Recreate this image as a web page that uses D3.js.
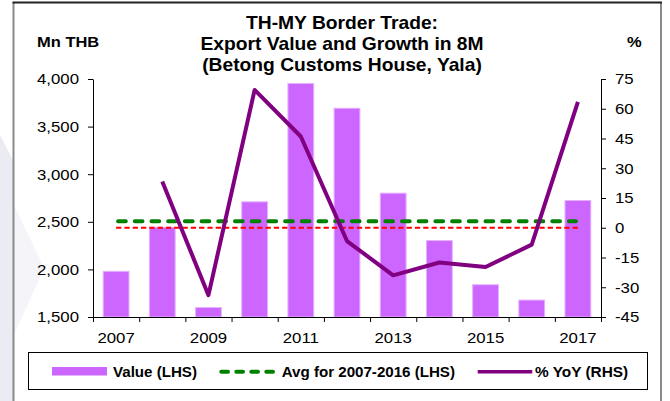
<!DOCTYPE html>
<html>
<head>
<meta charset="utf-8">
<script src="https://cdn.jsdelivr.net/npm/d3@7"></script>
<style>
  html, body { margin: 0; padding: 0; background: #fff; }
  svg { display: block; font-family: "Liberation Sans", Arial, Helvetica, sans-serif; }
</style>
</head>
<body>
<svg id="chart" width="670" height="401"></svg>
<script>
// Betong Customs House (Yala) border-trade exports, first 8 months of each year
const years = [2007, 2008, 2009, 2010, 2011, 2012, 2013, 2014, 2015, 2016, 2017];
const exportValue = [1985, 2448, 1605, 2715, 3958, 3698, 2806, 2308, 1844, 1683, 2729]; // Mn THB
const yoyGrowth = [null, 23.3, -34.0, 69.5, 46.0, -6.7, -24.0, -17.5, -19.8, -8.5, 63.5]; // %
const avgYears = [2007, 2016];

const leftTicks = [1500, 2000, 2500, 3000, 3500, 4000];
const rightTicks = [-45, -30, -15, 0, 15, 30, 45, 60, 75];
const yearLabels = [2007, 2009, 2011, 2013, 2015, 2017];

const titleLines = ["TH-MY Border Trade:", "Export Value and Growth in 8M", "(Betong Customs House, Yala)"];
const leftUnit = "Mn THB";
const rightUnit = "%";
const legendLabels = ["Value (LHS)", "Avg for 2007-2016 (LHS)", "% YoY (RHS)"];

const BAR = "#CC66FF", BAR_EDGE = "#E4B0FF", AVG = "#008000", ZERO = "#FF0000", YOY = "#800080";

const svg = d3.select("#chart");
const W = 670, H = 401;
const plot = { left: 93, right: 601, top: 79, bottom: 317 };

// Text is drawn slightly widened horizontally, like the original export
function label(sel, x, y, s, o = {}) {
  const sx = o.sx || 1.12;
  return sel.append("text")
    .attr("transform", `translate(${x},${y}) scale(${sx},1)`)
    .attr("text-anchor", o.anchor || "start")
    .attr("font-size", o.size || 15)
    .attr("font-weight", o.weight || "normal")
    .attr("fill", "#000")
    .text(s);
}

// faint page backdrop at the left edge
svg.append("polygon")
  .attr("points", "0,135 13,160 13,401 0,401")
  .attr("fill", "#ebebf3");
svg.append("polygon")
  .attr("points", "14,205 44,268 14,335")
  .attr("fill", "#f4f4f9");

// frame
svg.append("line").attr("x1", 13.5).attr("x2", 13.5).attr("y1", 2).attr("y2", H)
  .attr("stroke", "#8a8a8a").attr("stroke-width", 2);
svg.append("line").attr("x1", 661).attr("x2", 661).attr("y1", 2).attr("y2", H)
  .attr("stroke", "#8a8a8a").attr("stroke-width", 2);
svg.append("line").attr("x1", 12.5).attr("x2", 662).attr("y1", 2.5).attr("y2", 2.5)
  .attr("stroke", "#222").attr("stroke-width", 2);

// scales
const x = d3.scaleBand().domain(years).range([plot.left, plot.right])
  .paddingInner(0.42).paddingOuter(0.21);
const xEdge = d3.scaleLinear().domain([0, years.length]).range([plot.left, plot.right]);
const yL = d3.scaleLinear().domain([1500, 4000]).range([plot.bottom, plot.top]);
const yR = d3.scaleLinear().domain([-45, 75]).range([plot.bottom, plot.top]);
const cx = d => x(d) + x.bandwidth() / 2;

// bars
svg.append("g").selectAll("rect")
  .data(years.map((yr, i) => ({ yr, v: exportValue[i] })))
  .join("rect")
  .attr("x", d => x(d.yr) + 0.5)
  .attr("width", x.bandwidth() - 1)
  .attr("y", d => yL(d.v) + 0.5)
  .attr("height", d => plot.bottom - yL(d.v) - 0.5)
  .attr("fill", BAR)
  .attr("stroke", BAR_EDGE)
  .attr("stroke-width", 1);

// zero line of the right-hand axis
svg.append("line")
  .attr("x1", cx(years[0])).attr("x2", cx(years[years.length - 1]))
  .attr("y1", yR(0)).attr("y2", yR(0))
  .attr("stroke", ZERO).attr("stroke-width", 2)
  .attr("stroke-dasharray", "5.3,3");

// 2007-2016 average
const avgValue = d3.mean(exportValue.filter((v, i) => years[i] >= avgYears[0] && years[i] <= avgYears[1]));
svg.append("line")
  .attr("x1", cx(years[0]) + 2).attr("x2", cx(years[years.length - 1]) - 2)
  .attr("y1", yL(avgValue)).attr("y2", yL(avgValue))
  .attr("stroke", AVG).attr("stroke-width", 4)
  .attr("stroke-linecap", "round")
  .attr("stroke-dasharray", "7.7,9");

// YoY growth line
const yoyLine = d3.line()
  .defined(d => d.v !== null)
  .x(d => cx(d.yr))
  .y(d => yR(d.v));
svg.append("path")
  .datum(years.map((yr, i) => ({ yr, v: yoyGrowth[i] })))
  .attr("d", yoyLine)
  .attr("fill", "none")
  .attr("stroke", YOY)
  .attr("stroke-width", 4)
  .attr("stroke-linejoin", "round");

// axes
const gL = svg.append("g").attr("transform", `translate(${plot.left},0)`)
  .call(d3.axisLeft(yL).tickValues(leftTicks).tickSize(5).tickSizeOuter(0).tickFormat(""));
const gR = svg.append("g").attr("transform", `translate(${plot.right},0)`)
  .call(d3.axisRight(yR).tickValues(rightTicks).tickSize(5).tickSizeOuter(0).tickFormat(""));
const gB = svg.append("g").attr("transform", `translate(0,${plot.bottom})`)
  .call(d3.axisBottom(xEdge).tickValues(d3.range(years.length + 1)).tickSize(5).tickSizeOuter(0).tickFormat(""));
[gL, gR, gB].forEach(g => g.selectAll("path, line").attr("stroke", "#000").attr("stroke-width", 1));

const fmt = d3.format(",");
const tickLabels = svg.append("g");
leftTicks.forEach(t => label(tickLabels, plot.left - 14, yL(t) + 5.4, fmt(t), { anchor: "end" }));
rightTicks.forEach(t => label(tickLabels, plot.right + 14, yR(t) + 5.4, String(t)));
yearLabels.forEach(yr => label(tickLabels, cx(yr), plot.bottom + 26, String(yr), { anchor: "middle" }));

// titles
titleLines.forEach((s, i) => label(svg, 342, 29.3 + i * 20.7, s, { anchor: "middle", size: 17.5, weight: "bold", sx: 1.1 }));
label(svg, 37, 46.7, leftUnit, { size: 15, weight: "bold", sx: 1.1 });
label(svg, 627, 46.7, rightUnit, { size: 15, weight: "bold", sx: 1.1 });

// legend
const lg = svg.append("g");
lg.append("rect").attr("x", 28.5).attr("y", 352.5).attr("width", 619).attr("height", 37)
  .attr("fill", "#fff").attr("stroke", "#000").attr("stroke-width", 1);
lg.append("rect").attr("x", 52).attr("y", 367).attr("width", 55).attr("height", 8.5).attr("fill", BAR);
label(lg, 113, 376.5, legendLabels[0], { size: 14, weight: "bold", sx: 1.08 });
lg.append("line").attr("x1", 221.3).attr("x2", 274.7).attr("y1", 371.7).attr("y2", 371.7)
  .attr("stroke", AVG).attr("stroke-width", 4).attr("stroke-linecap", "round")
  .attr("stroke-dasharray", "6.7,8.3");
label(lg, 281.7, 376.5, legendLabels[1], { size: 14, weight: "bold", sx: 1.08 });
lg.append("line").attr("x1", 477.7).attr("x2", 532.3).attr("y1", 371.7).attr("y2", 371.7)
  .attr("stroke", YOY).attr("stroke-width", 3.5);
label(lg, 535, 376.5, legendLabels[2], { size: 14, weight: "bold", sx: 1.1 });
</script>
</body>
</html>
